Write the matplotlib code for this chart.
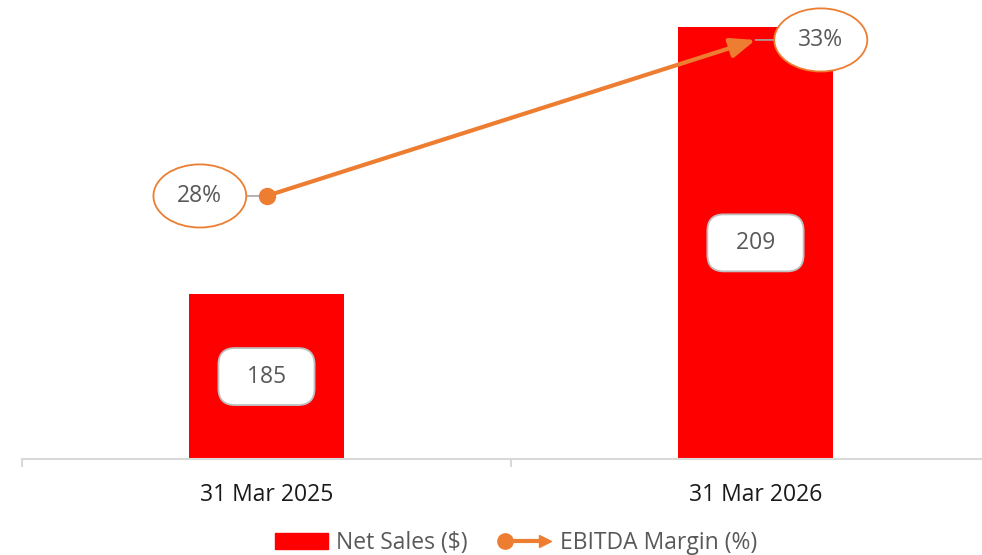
import matplotlib.pyplot as plt
import numpy as np
from matplotlib.lines import Line2D
from matplotlib.patches import Patch
from matplotlib.legend_handler import HandlerBase

# 字体与颜色
plt.rcParams['font.family'] = ['Open Sans', 'DejaVu Sans']
bar_color = '#FF0000'
line_color = '#ED7D31'
text_color = '#595959'
grid_color = '#D9D9D9'

# 数据
periods = ["31 Mar 2025", "31 Mar 2026"]
net_sales = [185, 209]
ebitda_margin = [28, 33]


class HandlerMarginLine(HandlerBase):
    # 图例: 圆点 + 线 + 箭头
    def create_artists(self, legend, orig_handle, xdescent, ydescent, width, height, fontsize, trans):
        y = height / 2 - ydescent
        x0, x1 = -xdescent, -xdescent + width
        line = Line2D([x0 + 4, x1 - 6], [y, y], color=line_color, lw=3, transform=trans)
        dot = Line2D([x0 + 4], [y], marker='o', ms=11, color=line_color, transform=trans)
        head = Line2D([x1 - 5], [y], marker='>', ms=9, color=line_color, transform=trans)
        return [line, dot, head]


fig = plt.figure(figsize=(9.82, 5.55), dpi=100)
ax = fig.add_axes([22 / 982, 96 / 555, 978 / 982, 459 / 555])
x = np.arange(len(periods))

bars = ax.bar(x, net_sales, width=0.317, color=bar_color, zorder=2)
ax.bar_label(bars, labels=[f"  {v}  " for v in net_sales], label_type='center', fontsize=16.5, color=text_color,
             bbox=dict(boxstyle='round,pad=0.72', fc='white', ec='#BFBFBF', lw=1.3))
ax.set_xlim(-0.5, 1.5)
ax.set_ylim(170.2, 211.4)
ax.set_xticks(x)
ax.set_xticklabels(periods, fontsize=16.5, color='#1a1a1a')
ax.set_xticks([-0.5, 0.5, 1.5], minor=True)
ax.tick_params(axis='x', which='major', length=0, pad=17)
ax.tick_params(axis='x', which='minor', length=6, width=1.5, color=grid_color)
ax.set_yticks([])
for side in ['top', 'right', 'left']:
    ax.spines[side].set_visible(False)
ax.spines['bottom'].set_color(grid_color)
ax.spines['bottom'].set_linewidth(1.5)

# 次坐标轴: EBITDA Margin
ax2 = ax.twinx()
ax2.set_ylim(19.57, 34.28)
ax2.set_yticks([])
for side in ['top', 'right', 'left', 'bottom']:
    ax2.spines[side].set_visible(False)
ax2.plot(x[:1], ebitda_margin[:1], marker='o', ms=11.5, color=line_color, zorder=4)
ax2.annotate('', xy=(x[1], ebitda_margin[1]), xytext=(x[0], ebitda_margin[0]),
             arrowprops=dict(arrowstyle='-|>,head_length=0.75,head_width=0.3', color=line_color, lw=3,
                             shrinkA=0, shrinkB=0, mutation_scale=20))

offsets = [-48, 47]
for xi, m, dx in zip(x, ebitda_margin, offsets):
    ax2.annotate(f"{m}%", xy=(xi, m), xytext=(dx, 0), textcoords='offset points', ha='center', va='center',
                 fontsize=16.5, color=text_color,
                 bbox=dict(boxstyle='ellipse,pad=0.45', fc='white', ec=line_color, lw=1.3),
                 arrowprops=dict(arrowstyle='-', color='#A6A6A6', lw=1.2, shrinkA=0, shrinkB=0))

handles = [Patch(color=bar_color), Line2D([], [], color=line_color)]
plt.legend(handles, ["Net Sales ($)", "EBITDA Margin (%)"], handler_map={Line2D: HandlerMarginLine()},
           loc='center', bbox_to_anchor=(516 / 982, 12 / 555), bbox_transform=fig.transFigure, ncol=2,
           frameon=False, fontsize=16.5, labelcolor=text_color, handlelength=2.3, handleheight=0.75,
           handletextpad=0.35, columnspacing=1.4)

plt.savefig("out.png")
